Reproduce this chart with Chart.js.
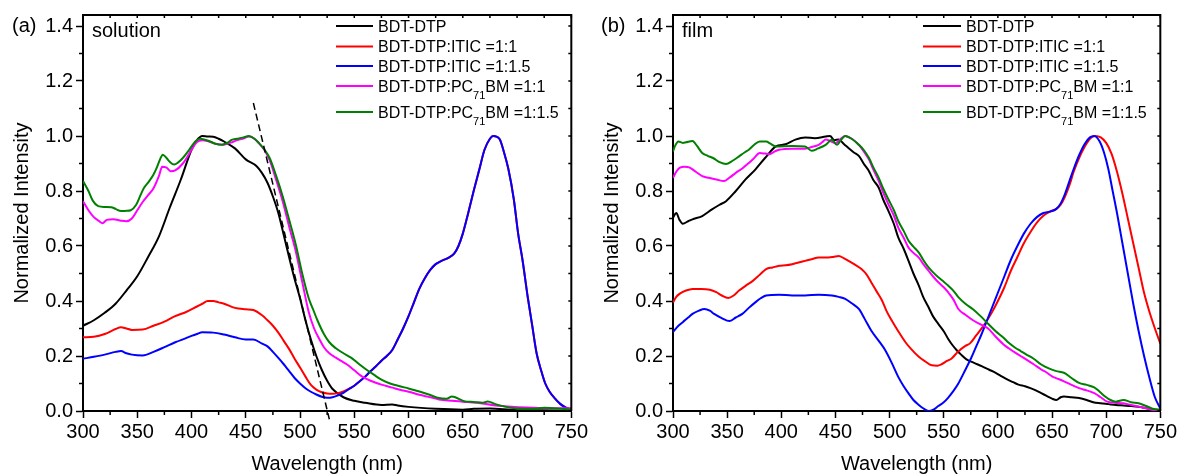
<!DOCTYPE html>
<html>
<head>
<meta charset="utf-8">
<script src="https://cdn.jsdelivr.net/npm/chart.js@4.4.1/dist/chart.umd.min.js"></script>
<style>
  html, body { margin: 0; padding: 0; background: #fff; }
  #wrap { position: relative; width: 1179px; height: 476px; overflow: hidden; }
  canvas { position: absolute; top: 0; }
  #ca { left: 0; }
  #cb { left: 590px; }
</style>
</head>
<body>
<div id="wrap">
  <canvas id="ca" width="590" height="476"></canvas>
  <canvas id="cb" width="589" height="476"></canvas>
</div>
<script>
// ---------- Tick labels ----------
const xTickValues = [300, 350, 400, 450, 500, 550, 600, 650, 700, 750];
const xMinorValues = [325, 375, 425, 475, 525, 575, 625, 675, 725];
const yTickValues = [0.0, 0.2, 0.4, 0.6, 0.8, 1.0, 1.2, 1.4];
const yMinorValues = [0.1, 0.3, 0.5, 0.7, 0.9, 1.1, 1.3];

// ---------- Legend ----------
const seriesNames = ['BDT-DTP', 'BDT-DTP:ITIC =1:1', 'BDT-DTP:ITIC =1:1.5', 'BDT-DTP:PC71BM =1:1', 'BDT-DTP:PC71BM =1:1.5'];
const legendParts = [
  ['BDT-DTP'],
  ['BDT-DTP:ITIC =1:1'],
  ['BDT-DTP:ITIC =1:1.5'],
  ['BDT-DTP:PC', '71', 'BM =1:1'],
  ['BDT-DTP:PC', '71', 'BM =1:1.5']
];
const seriesColors = ['#000000', '#ff0000', '#0000ff', '#ff00ff', '#008000'];

// ---------- (a) solution ----------
const solBdtNm  = [300,310,320,330,340,350,360,370,380,390,400,405,410,415,420,425,430,440,450,460,465,470,475,480,485,490,495,500,505,510,515,520,525,530,540,550,560,575,585,590,600,625,650,660,675,700,725,750];
const solBdtVal = [0.31,0.33,0.357,0.39,0.438,0.49,0.56,0.635,0.74,0.84,0.95,0.985,1.0,0.998,0.997,0.99,0.98,0.955,0.915,0.89,0.865,0.83,0.78,0.72,0.64,0.558,0.48,0.41,0.33,0.26,0.2,0.15,0.11,0.08,0.05,0.037,0.03,0.022,0.024,0.02,0.015,0.008,0.005,0.008,0.009,0.003,0.003,0.0];

const solItic11Nm  = [300,310,320,330,335,340,345,355,365,375,385,395,405,410,415,420,425,430,440,450,457,465,470,475,480,485,490,495,500,505,510,515,520,525,530,535,540,545];
const solItic11Val = [0.268,0.27,0.28,0.298,0.305,0.3,0.295,0.296,0.31,0.325,0.345,0.36,0.38,0.39,0.4,0.4,0.395,0.39,0.375,0.37,0.367,0.348,0.33,0.31,0.285,0.255,0.225,0.19,0.158,0.125,0.095,0.078,0.068,0.064,0.063,0.065,0.071,0.08];

const solItic115Nm  = [300,310,320,330,335,340,345,355,365,375,385,395,400,405,410,420,430,440,450,457,465,470,475,480,485,490,495,500,505,510,515,520,525,530,535,540,545];
const solItic115Val = [0.19,0.197,0.205,0.215,0.218,0.21,0.205,0.202,0.215,0.232,0.25,0.265,0.273,0.28,0.286,0.285,0.278,0.268,0.26,0.26,0.245,0.235,0.215,0.193,0.17,0.145,0.12,0.1,0.083,0.07,0.06,0.052,0.048,0.05,0.057,0.066,0.08];

// ITIC emission tail, shared by both ITIC blends in solution
const solIticTailNm  = [550,555,560,565,570,575,580,585,590,595,600,605,610,615,620,625,630,637,642,646,650,655,660,665,670,675,678,684,688,692,697,701,705,710,714,718,722,726,730,735,740,745,750];
const solIticTailVal = [0.092,0.108,0.125,0.145,0.163,0.183,0.2,0.222,0.26,0.3,0.345,0.395,0.445,0.483,0.513,0.534,0.545,0.558,0.572,0.6,0.645,0.72,0.8,0.875,0.95,0.99,1.0,0.988,0.94,0.88,0.77,0.645,0.55,0.41,0.31,0.21,0.15,0.1,0.07,0.045,0.025,0.012,0.005];

const solPc11Nm  = [300,305,310,315,318,322,328,335,340,345,350,355,360,365,370,373,377,381,385,392,397,401,405,410,416,422,428,433,437,442,447,453,458,462,467,472,478,484,490,496,502,508,513,518,522,527,533,538,543,550,557,565,575,585,592,600,610,620,628,640,650,663,680,698,716,733,750];
const solPc11Val = [0.763,0.73,0.705,0.69,0.683,0.695,0.697,0.692,0.69,0.7,0.73,0.76,0.785,0.81,0.855,0.888,0.885,0.872,0.875,0.9,0.93,0.956,0.978,0.985,0.98,0.972,0.968,0.972,0.977,0.985,0.99,0.998,0.99,0.974,0.95,0.912,0.84,0.763,0.67,0.582,0.47,0.36,0.3,0.26,0.232,0.21,0.194,0.182,0.17,0.148,0.126,0.11,0.096,0.085,0.077,0.07,0.059,0.05,0.042,0.037,0.034,0.03,0.02,0.015,0.012,0.01,0.01];

const solPc115Nm  = [300,305,309,314,320,326,330,335,340,344,349,353,356,361,365,368,371,373.5,377,380,384,388,392,397,401,405,408,416,422,428,433,437,442,447,453,458,462,467,472,478,484,490,496,502,508,512,516,522,527,533,540,547,554,561,568,575,583,592,600,610,620,628,635,640,643,652,660,668,673,680,690,698,716,725,733,740,750];
const solPc115Val = [0.836,0.8,0.765,0.745,0.742,0.741,0.735,0.727,0.728,0.73,0.75,0.785,0.81,0.836,0.86,0.885,0.915,0.932,0.92,0.906,0.896,0.905,0.92,0.945,0.968,0.985,0.99,0.982,0.972,0.968,0.975,0.986,0.99,0.994,1.0,0.99,0.975,0.952,0.92,0.855,0.781,0.695,0.606,0.5,0.41,0.37,0.33,0.28,0.25,0.228,0.21,0.194,0.172,0.151,0.132,0.114,0.1,0.09,0.082,0.071,0.058,0.047,0.045,0.053,0.05,0.035,0.033,0.03,0.035,0.025,0.015,0.01,0.008,0.012,0.01,0.008,0.005];

// dashed guide line in (a)
const solGuideNm  = [457, 527];
const solGuideVal = [1.12, -0.03];

// ---------- (b) film ----------
const filmBdtNm  = [300,303,306,309,314,318,327,336,343,349,358,367,376,385,395,404,413,422,431,441,445,449,453,458,462,467,472,476,481,485,490,494,499,504,508,513,517.5,522,527,531,536,540,545,550,554,558,562,566,571,578,585,592,598,604,609,614,619,625,630,635,640,645,650,654,658,661,668,675,682,688,695,702,709,716,723,730,737,744,750];
const filmBdtVal = [0.703,0.72,0.695,0.681,0.69,0.697,0.709,0.733,0.75,0.763,0.8,0.842,0.878,0.92,0.962,0.97,0.987,0.995,0.992,0.998,1.0,0.985,0.987,0.97,0.956,0.94,0.926,0.9,0.872,0.84,0.812,0.77,0.727,0.68,0.631,0.59,0.546,0.5,0.456,0.415,0.377,0.345,0.317,0.29,0.263,0.24,0.221,0.205,0.188,0.175,0.163,0.15,0.139,0.125,0.114,0.105,0.096,0.09,0.083,0.075,0.065,0.055,0.045,0.04,0.05,0.053,0.05,0.047,0.04,0.032,0.028,0.025,0.022,0.02,0.018,0.015,0.01,0.005,0.0];

const filmItic11Nm  = [300,303,306,312,318,326,334,340,345,351,356,361,367,374,380,386,392,398,404,410,416,422,428,434.5,443.5,448,453,458,462,468,474,479,483,488,493,497,502,508,514.5,520,527,533,539,544,548,553,557,563,570,574,580,588,594,600,606,612,618,624,630,636,642,648,654,658,662,666,670,675,680,685,690,695,700,705,710,715,720,725,730,735,740,745,750];
const filmItic11Val = [0.395,0.415,0.426,0.438,0.444,0.444,0.441,0.432,0.42,0.411,0.42,0.438,0.455,0.474,0.495,0.516,0.522,0.528,0.53,0.534,0.54,0.546,0.552,0.558,0.558,0.56,0.564,0.555,0.546,0.532,0.516,0.495,0.468,0.435,0.402,0.365,0.329,0.29,0.251,0.225,0.197,0.18,0.166,0.165,0.17,0.182,0.19,0.215,0.237,0.245,0.275,0.317,0.355,0.4,0.45,0.51,0.56,0.61,0.65,0.685,0.71,0.725,0.735,0.75,0.78,0.82,0.87,0.92,0.96,0.99,1.0,0.995,0.975,0.935,0.87,0.79,0.7,0.61,0.52,0.43,0.36,0.3,0.245];

const filmItic115Nm  = [300,305,309,314,318,324,329,334,338,345,352,358,364,370,376,381,386,398,410,422,434.5,446.7,453,459,465,471.6,477,483,490,496,502,508,513,517.5,522,527,531,536,540,545,550,554,559,563.5,570,575,580,585,590,595,600,606,612,618,624,630,636,642,648,654,658,662,666,670,675,680,685,689,694,698,702,706,710,715,720,725,730,735,740,745,750];
const filmItic115Val = [0.287,0.31,0.323,0.34,0.353,0.365,0.371,0.365,0.353,0.338,0.327,0.34,0.353,0.375,0.395,0.41,0.42,0.423,0.42,0.42,0.423,0.42,0.415,0.408,0.392,0.371,0.335,0.293,0.255,0.221,0.175,0.124,0.09,0.064,0.04,0.022,0.01,0.0,0.004,0.018,0.032,0.048,0.073,0.1,0.15,0.19,0.235,0.28,0.33,0.38,0.43,0.49,0.55,0.6,0.645,0.68,0.705,0.72,0.725,0.735,0.755,0.79,0.835,0.88,0.93,0.97,0.995,1.0,0.98,0.94,0.88,0.8,0.72,0.61,0.5,0.39,0.29,0.2,0.12,0.05,0.01];

const filmPc11Nm  = [300,303,306,311,315,321,327,333,340,347,352,358,364,370,375,380,385,389,394,398,410,422,428,434.5,438,441,445,450,455,459,465,471.6,476,481,485,490,494,499,504,508,513,517.5,522,527,531,536,540,545,550,554,559,563.5,570,577,584,591,598,605,610,616,621,626,633,640,645,650,655,661,668,675,682,689,695,701,708,716,723,730,737,744,750];
const filmPc11Val = [0.848,0.87,0.884,0.888,0.886,0.87,0.854,0.848,0.842,0.836,0.848,0.866,0.882,0.902,0.92,0.938,0.936,0.934,0.944,0.95,0.954,0.954,0.96,0.968,0.978,0.987,0.982,0.974,0.99,1.0,0.99,0.968,0.945,0.914,0.878,0.836,0.795,0.751,0.71,0.667,0.63,0.594,0.575,0.558,0.535,0.51,0.49,0.468,0.45,0.432,0.405,0.371,0.35,0.33,0.315,0.3,0.27,0.243,0.228,0.212,0.2,0.188,0.17,0.151,0.14,0.126,0.118,0.108,0.095,0.083,0.075,0.065,0.05,0.034,0.03,0.028,0.022,0.016,0.01,0.004,0.005];

const filmPc115Nm  = [300,302,305,309,312,318,322,327,332,337,343,349,355,361,366,370,375,380,386,390,395,410,422,428,434,441,446.7,451.4,455,459,465,471.6,476,481,485,490,494,499,504,508,513,517.5,522,527,531,536,540,545,550,554,559,563.5,570,577,584,591,598,605,610,616,621,626,633,640,647,654,661,668,675,682,689,694,699,704,709,716,723,730,737,744,750];
const filmPc115Val = [0.944,0.965,0.98,0.975,0.977,0.982,0.965,0.938,0.928,0.92,0.905,0.898,0.91,0.926,0.94,0.95,0.968,0.98,0.98,0.972,0.962,0.964,0.962,0.946,0.955,0.968,0.986,0.968,0.985,1.0,0.99,0.968,0.95,0.92,0.886,0.848,0.81,0.769,0.73,0.691,0.655,0.619,0.598,0.576,0.55,0.522,0.505,0.486,0.47,0.456,0.437,0.414,0.39,0.37,0.345,0.317,0.29,0.267,0.248,0.23,0.218,0.206,0.19,0.169,0.155,0.145,0.139,0.12,0.102,0.095,0.086,0.07,0.053,0.04,0.034,0.04,0.032,0.028,0.018,0.007,0.005];

// ---------- helpers ----------
function pts(nm, val) { return nm.map((x, i) => ({ x: x, y: val[i] })); }

const FONT = '"Liberation Sans", Arial, Helvetica, sans-serif';
Chart.defaults.font.family = FONT;
Chart.defaults.color = '#000';

function lineDs(label, data, color, order) {
  return {
    label: label, data: data, borderColor: color, backgroundColor: color,
    borderWidth: 2, pointRadius: 0, fill: false, tension: 0,
    cubicInterpolationMode: 'monotone', order: order
  };
}

const framePlugin = {
  id: 'frameDecor',
  afterDraw(chart, args, opts) {
    const { ctx, chartArea: a } = chart;
    const x = chart.scales.x, y = chart.scales.y;
    ctx.save();
    ctx.strokeStyle = '#000';
    ctx.lineWidth = 2;
    ctx.beginPath();
    ctx.moveTo(a.left, a.top); ctx.lineTo(a.right, a.top); ctx.lineTo(a.right, a.bottom);
    ctx.stroke();
    ctx.lineWidth = 1.5;
    ctx.beginPath();
    xMinorValues.forEach(v => { const p = x.getPixelForValue(v); ctx.moveTo(p, a.bottom); ctx.lineTo(p, a.bottom + 4); });
    yMinorValues.forEach(v => { const p = y.getPixelForValue(v); ctx.moveTo(a.left, p); ctx.lineTo(a.left - 4, p); });
    xTickValues.concat(xMinorValues).forEach(v => { const p = x.getPixelForValue(v); ctx.moveTo(p, a.top); ctx.lineTo(p, a.top + 3); });
    yTickValues.concat(yMinorValues).forEach(v => { const p = y.getPixelForValue(v); ctx.moveTo(a.right, p); ctx.lineTo(a.right - 3, p); });
    ctx.stroke();

    // panel label and note
    ctx.fillStyle = '#000';
    ctx.textBaseline = 'alphabetic';
    ctx.textAlign = 'left';
    ctx.font = '20px ' + FONT;
    ctx.fillText(opts.panel, opts.panelX, 32);
    ctx.fillText(opts.note, opts.noteX, 37);

    // legend
    const ys = [26, 46.5, 66, 86, 112];
    legendParts.forEach((parts, i) => {
      const ly = ys[i];
      ctx.strokeStyle = seriesColors[i];
      ctx.lineWidth = 2;
      ctx.beginPath();
      ctx.moveTo(opts.lx0, ly); ctx.lineTo(opts.lx1, ly);
      ctx.stroke();
      let tx = opts.tx;
      const base = ly + 5.8;
      ctx.fillStyle = '#000';
      parts.forEach((p, j) => {
        if (parts.length === 3 && j === 1) {
          ctx.font = '11px ' + FONT;
          ctx.fillText(p, tx, base + 7);
        } else {
          ctx.font = '16px ' + FONT;
          ctx.fillText(p, tx, base);
        }
        tx += ctx.measureText(p).width;
      });
    });
    ctx.restore();
  }
};

function makeChart(id, datasets, decor, padRight) {
  return new Chart(document.getElementById(id), {
    type: 'line',
    data: { datasets: datasets },
    plugins: [framePlugin],
    options: {
      responsive: false, animation: false, devicePixelRatio: 1, events: [],
      layout: { padding: { top: 13, right: padRight, left: 0, bottom: 0 } },
      plugins: { legend: { display: false }, tooltip: { enabled: false }, frameDecor: decor },
      scales: {
        x: {
          type: 'linear', min: 300, max: 750,
          afterBuildTicks: s => { s.ticks = xTickValues.map(v => ({ value: v })); },
          afterFit: s => { s.height = 65; },
          ticks: { font: { size: 20 }, color: '#000', padding: 2, maxRotation: 0, autoSkip: false,
                   callback: v => String(v) },
          grid: { drawOnChartArea: false, drawTicks: true, tickLength: 7, color: '#000', tickWidth: 1.5 },
          border: { display: true, color: '#000', width: 2 },
          title: { display: true, text: 'Wavelength (nm)', font: { size: 20 }, color: '#000', padding: { top: 0, bottom: 0 } }
        },
        y: {
          type: 'linear', min: 0, max: 1.44,
          afterBuildTicks: s => { s.ticks = yTickValues.map(v => ({ value: v })); },
          afterFit: s => { s.width = 83; },
          ticks: { font: { size: 20 }, color: '#000', padding: 3, autoSkip: false,
                   callback: v => Number(v).toFixed(1) },
          grid: { drawOnChartArea: false, drawTicks: true, tickLength: 7, color: '#000', tickWidth: 1.5 },
          border: { display: true, color: '#000', width: 2 },
          title: { display: true, text: 'Normalized Intensity', font: { size: 20 }, color: '#000', padding: { top: 10, bottom: 0 } }
        }
      }
    }
  });
}

const solDatasets = [
  lineDs(seriesNames[0], pts(solBdtNm, solBdtVal), seriesColors[0], 5),
  lineDs(seriesNames[1], pts(solItic11Nm.concat(solIticTailNm), solItic11Val.concat(solIticTailVal)), seriesColors[1], 4),
  lineDs(seriesNames[2], pts(solItic115Nm.concat(solIticTailNm), solItic115Val.concat(solIticTailVal)), seriesColors[2], 3),
  lineDs(seriesNames[3], pts(solPc11Nm, solPc11Val), seriesColors[3], 2),
  lineDs(seriesNames[4], pts(solPc115Nm, solPc115Val), seriesColors[4], 1),
  { label: 'guide', data: pts(solGuideNm, solGuideVal), borderColor: '#000', borderWidth: 1.5,
    borderDash: [7, 4], pointRadius: 0, fill: false, clip: false, order: 0 }
];

const filmDatasets = [
  lineDs(seriesNames[0], pts(filmBdtNm, filmBdtVal), seriesColors[0], 5),
  lineDs(seriesNames[1], pts(filmItic11Nm, filmItic11Val), seriesColors[1], 4),
  lineDs(seriesNames[2], pts(filmItic115Nm, filmItic115Val), seriesColors[2], 3),
  lineDs(seriesNames[3], pts(filmPc11Nm, filmPc11Val), seriesColors[3], 2),
  lineDs(seriesNames[4], pts(filmPc115Nm, filmPc115Val), seriesColors[4], 1)
];

makeChart('ca', solDatasets, { panel: '(a)', panelX: 12, note: 'solution', noteX: 92, lx0: 336, lx1: 373, tx: 378 }, 17);
makeChart('cb', filmDatasets, { panel: '(b)', panelX: 11, note: 'film', noteX: 92, lx0: 333, lx1: 371, tx: 376 }, 16);
</script>
</body>
</html>
